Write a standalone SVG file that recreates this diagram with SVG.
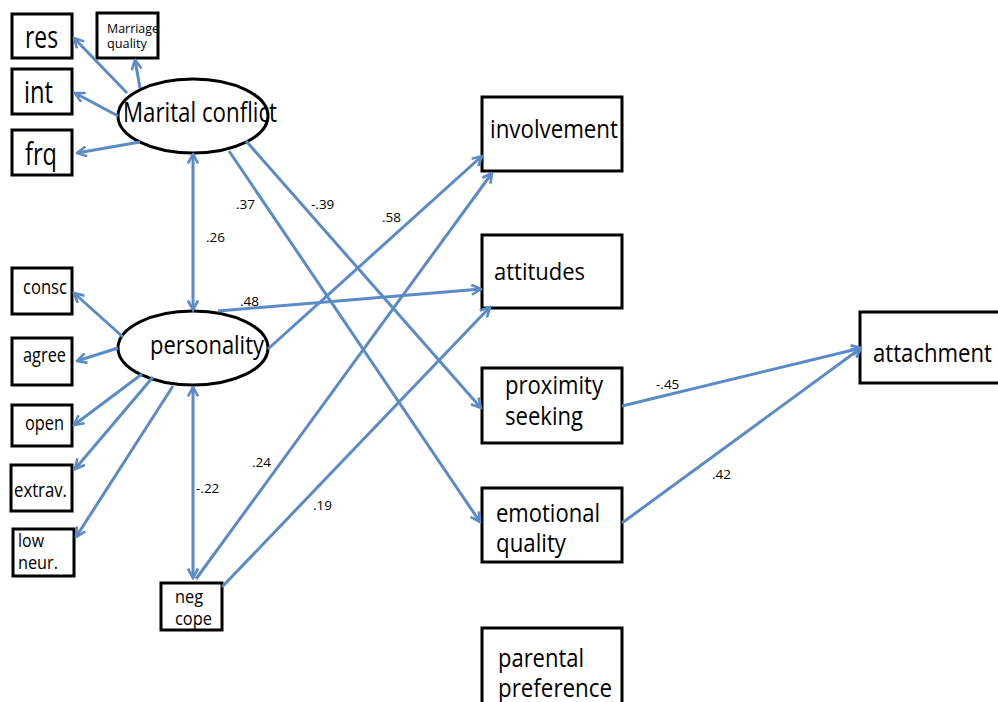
<svg xmlns="http://www.w3.org/2000/svg" width="998" height="702" viewBox="0 0 998 702">
<style>
.box{fill:#fff;stroke:#000;stroke-width:3}
.ell{fill:#fff;stroke:#000;stroke-width:3}
.t{font-family:"Open Sans","Noto Sans","Liberation Sans",sans-serif;fill:#000}
.c{stroke:#5B8BC6;stroke-width:3;fill:none;marker-end:url(#ah)}
.d{stroke:#5B8BC6;stroke-width:3;fill:none;marker-end:url(#ah);marker-start:url(#ah)}
.n{font-family:"Open Sans","Noto Sans","Liberation Sans",sans-serif;font-size:13.5px;fill:#000}
</style>
<defs>
<marker id="ah" viewBox="0 0 12 12" refX="10.5" refY="6" markerWidth="12" markerHeight="12" markerUnits="userSpaceOnUse" orient="auto-start-reverse">
<path d="M1,1 L10.5,6 L1,11" fill="none" stroke="#5B8BC6" stroke-width="2.6" stroke-linejoin="miter"/>
</marker>
</defs>
<rect width="998" height="702" fill="#fff"/>

<g id="res"><rect class="box" x="12" y="14" width="60" height="44"/><text class="t" x="25" y="48" font-size="31" textLength="33" lengthAdjust="spacingAndGlyphs">res</text></g>
<g id="marriage"><rect class="box" x="97" y="13" width="61" height="45"/><text class="t" x="107" y="33" font-size="13" textLength="52" lengthAdjust="spacingAndGlyphs">Marriage</text><text class="t" x="107" y="48" font-size="13" textLength="40" lengthAdjust="spacingAndGlyphs">quality</text></g>
<g id="int"><rect class="box" x="12" y="69" width="60" height="45"/><text class="t" x="24" y="103" font-size="31" textLength="29" lengthAdjust="spacingAndGlyphs">int</text></g>
<g id="frq"><rect class="box" x="12" y="130" width="60" height="45"/><text class="t" x="25" y="165" font-size="31" textLength="32" lengthAdjust="spacingAndGlyphs">frq</text></g>
<g id="marital"><ellipse class="ell" cx="193" cy="116" rx="75" ry="37"/><text class="t" x="123" y="122" font-size="28" textLength="154" lengthAdjust="spacingAndGlyphs">Marital conflict</text></g>

<g id="consc"><rect class="box" x="12" y="268" width="60" height="46"/><text class="t" x="23" y="294" font-size="20" textLength="44" lengthAdjust="spacingAndGlyphs">consc</text></g>
<g id="agree"><rect class="box" x="12" y="338" width="60" height="47"/><text class="t" x="23" y="362" font-size="20" textLength="43" lengthAdjust="spacingAndGlyphs">agree</text></g>
<g id="open"><rect class="box" x="12" y="405" width="60" height="41"/><text class="t" x="25" y="430" font-size="20" textLength="39" lengthAdjust="spacingAndGlyphs">open</text></g>
<g id="extrav"><rect class="box" x="11" y="465" width="61" height="46"/><text class="t" x="14" y="497" font-size="20" textLength="53" lengthAdjust="spacingAndGlyphs">extrav.</text></g>
<g id="lowneur"><rect class="box" x="13" y="529" width="61" height="47"/><text class="t" x="18" y="547" font-size="19" textLength="26" lengthAdjust="spacingAndGlyphs">low</text><text class="t" x="18" y="569" font-size="19" textLength="40" lengthAdjust="spacingAndGlyphs">neur.</text></g>
<g id="personality"><ellipse class="ell" cx="193" cy="348" rx="75" ry="37"/><text class="t" x="150" y="354" font-size="26" textLength="114" lengthAdjust="spacingAndGlyphs">personality</text></g>
<g id="negcope"><rect class="box" x="161" y="583" width="61" height="47"/><text class="t" x="175" y="603" font-size="19" textLength="28" lengthAdjust="spacingAndGlyphs">neg</text><text class="t" x="175" y="625" font-size="19" textLength="37" lengthAdjust="spacingAndGlyphs">cope</text></g>

<g id="involvement"><rect class="box" x="482" y="97" width="140" height="74"/><text class="t" x="490" y="138" font-size="25" textLength="128" lengthAdjust="spacingAndGlyphs">involvement</text></g>
<g id="attitudes"><rect class="box" x="482" y="235" width="140" height="73"/><text class="t" x="494" y="280" font-size="24" textLength="91" lengthAdjust="spacingAndGlyphs">attitudes</text></g>
<g id="proximity"><rect class="box" x="482" y="368" width="140" height="75"/><text class="t" x="505" y="394" font-size="25" textLength="98" lengthAdjust="spacingAndGlyphs">proximity</text><text class="t" x="505" y="425" font-size="25" textLength="78" lengthAdjust="spacingAndGlyphs">seeking</text></g>
<g id="emotional"><rect class="box" x="482" y="488" width="140" height="74"/><text class="t" x="496" y="522" font-size="25" textLength="104" lengthAdjust="spacingAndGlyphs">emotional</text><text class="t" x="496" y="552" font-size="25" textLength="70" lengthAdjust="spacingAndGlyphs">quality</text></g>
<g id="parental"><rect class="box" x="482" y="628" width="140" height="80"/><text class="t" x="498" y="667" font-size="25" textLength="86" lengthAdjust="spacingAndGlyphs">parental</text><text class="t" x="498" y="697" font-size="25" textLength="114" lengthAdjust="spacingAndGlyphs">preference</text></g>
<g id="attachment"><rect class="box" x="860" y="312" width="150" height="71"/><text class="t" x="873" y="362" font-size="25" textLength="119" lengthAdjust="spacingAndGlyphs">attachment</text></g>

<g id="connectors">
<line class="c" x1="127" y1="93" x2="74" y2="38"/>
<line class="c" x1="140" y1="88" x2="135" y2="60"/>
<line class="c" x1="118" y1="116" x2="75" y2="93"/>
<line class="c" x1="140" y1="142" x2="77" y2="153"/>
<line class="d" x1="193" y1="154" x2="193" y2="310"/>
<line class="c" x1="229" y1="151" x2="480" y2="522"/>
<line class="c" x1="246" y1="141" x2="481" y2="408"/>
<line class="c" x1="268" y1="349" x2="482" y2="156"/>
<line class="c" x1="218" y1="311" x2="481" y2="289"/>
<line class="c" x1="196" y1="579" x2="492" y2="173"/>
<line class="c" x1="222" y1="587" x2="490" y2="307"/>
<line class="d" x1="193" y1="387" x2="193" y2="578"/>
<line class="c" x1="622" y1="406" x2="861" y2="348"/>
<line class="c" x1="622" y1="523" x2="861" y2="348"/>
<line class="c" x1="123" y1="337" x2="74" y2="293"/>
<line class="c" x1="118" y1="348" x2="77" y2="361"/>
<line class="c" x1="142" y1="374" x2="74" y2="425"/>
<line class="c" x1="153" y1="377" x2="75" y2="469"/>
<line class="c" x1="173" y1="386" x2="76" y2="537"/>
<text class="n" x="236" y="209">.37</text>
<text class="n" x="206" y="242">.26</text>
<text class="n" x="311" y="209">-.39</text>
<text class="n" x="382" y="222">.58</text>
<text class="n" x="240" y="306">.48</text>
<text class="n" x="252" y="467">.24</text>
<text class="n" x="196" y="493">-.22</text>
<text class="n" x="313" y="510">.19</text>
<text class="n" x="656" y="389">-.45</text>
<text class="n" x="712" y="479">.42</text>
</g>
</svg>
